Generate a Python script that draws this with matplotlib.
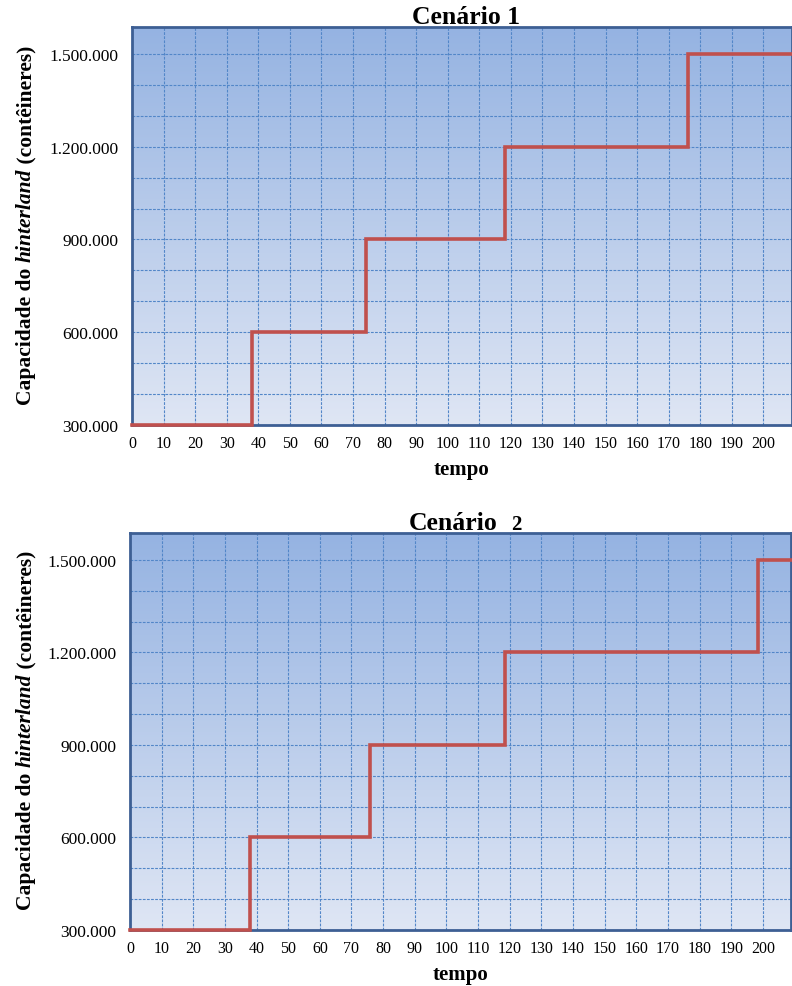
import numpy as np
import matplotlib
matplotlib.use("Agg")
import matplotlib.pyplot as plt
import matplotlib.patheffects as pe
from matplotlib import font_manager
from matplotlib.colors import LinearSegmentedColormap
from matplotlib.ticker import FixedLocator, MultipleLocator

plt.rcParams["font.family"] = ["Liberation Serif", "DejaVu Serif"]

# Capacity step series (time, capacity) for each scenario
tempo_c1 = [0, 38, 74, 118, 176, 210]
capacidade_c1 = [300000, 600000, 900000, 1200000, 1500000, 1500000]

tempo_c2 = [0, 38, 76, 118.5, 198.5, 210]
capacidade_c2 = [300000, 600000, 900000, 1200000, 1500000, 1500000]

x_ticks = list(range(0, 201, 10))
y_ticks = [300000, 600000, 900000, 1200000, 1500000]
y_tick_labels = ["300.000", "600.000", "900.000", "1.200.000", "1.500.000"]

# y-axis title pieces: (text, font style)
ylabel_parts = [("Capacidade do ", "normal"), ("hinterland", "italic"),
                (" (contêineres)", "normal")]

W, H = 792, 987
fig = plt.figure(figsize=(W / 100, H / 100), dpi=100)

spine_color = "#3d5f94"
grid_color = "#5286c8"
line_color = "#c0504d"
bg_cmap = LinearSegmentedColormap.from_list("bg", ["#dfe6f4", "#95b3e2"])

XMAX = 208.9
YMIN, YMAX = 300000, 1587000

# embolden the italic piece by stroking if no bold-italic face is available
bi_file = font_manager.findfont(font_manager.FontProperties(
    family="Liberation Serif", style="italic", weight="bold"))
needs_fake_bold = "bolditalic" not in bi_file.lower().replace("-", "").replace("_", "")


def px_rect(l, r, b, t):
    return [l / W, 1 - b / H, (r - l) / W, (b - t) / H]


# (axes rect in pixels, data, title pieces with their left pixel, ylabel span)
panels = [
    (px_rect(132, 791.5, 426, 28), tempo_c1, capacidade_c1,
     [("Cenário 1", 412, 18.5)], (410, 40)),
    (px_rect(130, 791, 931, 534), tempo_c2, capacidade_c2,
     [("Cenário", 409, 18.5), ("2", 511, 15)], (915, 545)),
]

renderer = fig.canvas.get_renderer()
ylabel_size = 15.5
ylabel_x = 31  # baseline x (pixels) of the rotated axis title

for rect, tx, cy, title_parts, (ylab_bottom, ylab_top) in panels:
    ax = fig.add_axes(rect)
    ax.set_xlim(0, XMAX)
    ax.set_ylim(YMIN, YMAX)
    bb = ax.get_position()

    grad = np.linspace(0, 1, 256).reshape(-1, 1)
    ax.imshow(grad, extent=[0, XMAX, YMIN, YMAX], origin="lower",
              aspect="auto", cmap=bg_cmap, zorder=0, interpolation="bicubic")

    ax.xaxis.set_major_locator(FixedLocator(x_ticks))
    ax.yaxis.set_major_locator(FixedLocator(y_ticks))
    ax.yaxis.set_minor_locator(MultipleLocator(100000))
    ax.set_yticklabels(y_tick_labels)
    ax.grid(True, which="both", axis="y", color=grid_color,
            linestyle=(0, (2.5, 1.2)), linewidth=0.8, zorder=1)
    ax.grid(True, which="major", axis="x", color=grid_color,
            linestyle=(0, (2.5, 1.2)), linewidth=0.8, zorder=1)
    ax.set_axisbelow(False)

    ax.step(tx, cy, where="post", color=line_color, linewidth=2.6,
            zorder=5, solid_joinstyle="miter", clip_on=False)

    ax.tick_params(axis="both", which="both", length=0)
    ax.tick_params(axis="x", labelsize=11.5, pad=7)
    ax.tick_params(axis="y", labelsize=12.5, pad=10)

    for s in ax.spines.values():
        s.set_color(spine_color)
        s.set_linewidth(2.0)
        s.set_zorder(4)

    ax.set_xlabel("tempo", fontsize=15, fontweight="bold", labelpad=6)

    # rotated axis title built from upright and italic bold pieces
    pieces = []
    for text, style in ylabel_parts:
        t = fig.text(0, 0, text, rotation=90, rotation_mode="anchor",
                     ha="left", va="baseline", fontsize=ylabel_size,
                     fontweight="bold", fontstyle=style)
        if style == "italic" and needs_fake_bold:
            t.set_path_effects([pe.withStroke(linewidth=0.7, foreground="black")])
        pieces.append(t)
    lengths = [p.get_window_extent(renderer).height for p in pieces]
    total = sum(lengths)
    y_cur = H - (ylab_bottom + ylab_top) / 2 - total / 2
    for p, ln in zip(pieces, lengths):
        p.set_position((ylabel_x / W, y_cur / H))
        y_cur += ln

    for text, left_px, size in title_parts:
        fx = (left_px / W - bb.x0) / bb.width
        ax.text(fx, 1.0 + 4 / 398, text, transform=ax.transAxes,
                ha="left", va="baseline", fontsize=size, fontweight="bold")

fig.savefig("out.png", dpi=100)
